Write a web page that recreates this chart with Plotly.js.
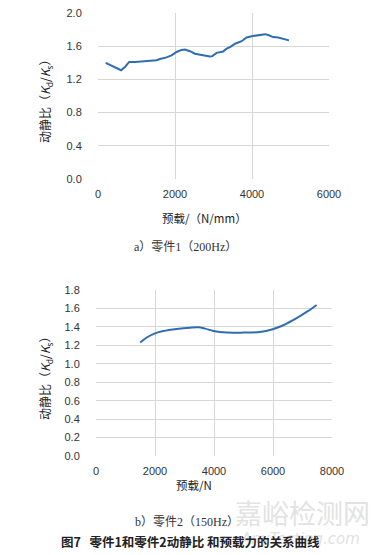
<!DOCTYPE html>
<html>
<head>
<meta charset="utf-8">
<script src="https://cdn.plot.ly/plotly-3.0.1.min.js"></script>
<style>html,body{margin:0;padding:0;background:#fff;}#chart{width:381px;height:555px;}</style>
</head>
<body>
<div id="chart"></div>
<script>
// Part 1 (200Hz): preload (N/mm) vs dynamic-static ratio
const preload1 = [200, 340, 440, 600, 700, 810, 960, 1090, 1260, 1440, 1520, 1610, 1780, 1910, 2040, 2170, 2260, 2390, 2520, 2690, 2910, 2970, 3080, 3250, 3340, 3430, 3560, 3730, 3860, 3990, 4170, 4340, 4420, 4550, 4680, 4810, 4960];
const ratio1 = [1.40, 1.37, 1.35, 1.31, 1.35, 1.41, 1.41, 1.415, 1.42, 1.43, 1.43, 1.445, 1.465, 1.49, 1.53, 1.555, 1.56, 1.54, 1.51, 1.495, 1.475, 1.48, 1.52, 1.535, 1.57, 1.59, 1.63, 1.66, 1.705, 1.72, 1.735, 1.745, 1.735, 1.71, 1.705, 1.685, 1.67];
// Part 2 (150Hz): preload (N) vs dynamic-static ratio
const preload2 = [1500, 1720, 2000, 2280, 2740, 3190, 3470, 3700, 3980, 4430, 5000, 5560, 5990, 6350, 6800, 7140, 7480];
const ratio2 = [1.23, 1.285, 1.33, 1.355, 1.378, 1.392, 1.396, 1.381, 1.356, 1.338, 1.338, 1.345, 1.375, 1.418, 1.494, 1.562, 1.638];

const xTicks1 = [0, 2000, 4000, 6000];
const yTicks1 = [0, 0.4, 0.8, 1.2, 1.6, 2.0];
const yTickText1 = ["0.0", "0.4", "0.8", "1.2", "1.6", "2.0"];
const xTicks2 = [0, 2000, 4000, 6000, 8000];
const yTicks2 = [0, 0.2, 0.4, 0.6, 0.8, 1.0, 1.2, 1.4, 1.6, 1.8];
const yTickText2 = ["0.0", "0.2", "0.4", "0.6", "0.8", "1.0", "1.2", "1.4", "1.6", "1.8"];

const W = 381, H = 555;
const px = v => v / W;
const py = v => 1 - v / H;

const lineColor = '#2f6db0';
const gridColor = '#d6d6d6';
const tickFont = {family: 'Liberation Sans, Arial, sans-serif', size: 11, color: '#333'};

const traces = [
  {x: preload1, y: ratio1, type: 'scatter', mode: 'lines', line: {color: lineColor, width: 2}, xaxis: 'x', yaxis: 'y', hoverinfo: 'skip'},
  {x: preload2, y: ratio2, type: 'scatter', mode: 'lines', line: {color: lineColor, width: 2, shape: 'spline', smoothing: 1}, xaxis: 'x2', yaxis: 'y2', hoverinfo: 'skip'}
];

function xa(domain, range, tv, anchor) {
  return {domain: domain, range: range, tickvals: tv, showgrid: true, gridcolor: gridColor, gridwidth: 1,
    zeroline: false, showline: false, ticks: 'outside', ticklen: 5, tickcolor: 'rgba(0,0,0,0)',
    tickfont: tickFont, anchor: anchor, fixedrange: true};
}
function ya(domain, range, tv, tt, anchor) {
  return {domain: domain, range: range, tickvals: tv, ticktext: tt, showgrid: true, gridcolor: gridColor, gridwidth: 1,
    zeroline: false, showline: false, ticks: 'outside', ticklen: 13, tickcolor: 'rgba(0,0,0,0)',
    tickfont: tickFont, anchor: anchor, fixedrange: true};
}

const ytitle = '动静比（<i>K</i><sub>d</sub>/<i>K</i><sub>s</sub>）';
const cjkBold = 'Noto Sans CJK SC, sans-serif';
const serif = 'Liberation Serif, Noto Sans CJK SC, serif';

const layout = {
  width: W, height: H,
  margin: {l: 0, r: 0, t: 0, b: 0},
  paper_bgcolor: '#fff', plot_bgcolor: '#fff',
  showlegend: false,
  xaxis: xa([px(98), px(329)], [0, 6000], xTicks1, 'y'),
  yaxis: ya([py(179), py(13)], [0, 2.0], yTicks1, yTickText1, 'x'),
  xaxis2: xa([px(96), px(332)], [0, 8000], xTicks2, 'y2'),
  yaxis2: ya([py(456), py(290)], [0, 1.8], yTicks2, yTickText2, 'x2'),
  annotations: [
    {text: ytitle, x: px(46), y: py(99), xref: 'paper', yref: 'paper', textangle: -90, showarrow: false,
     xanchor: 'center', yanchor: 'middle', font: {family: cjkBold, size: 12, color: '#222'}},
    {text: ytitle, x: px(45), y: py(376), xref: 'paper', yref: 'paper', textangle: -90, showarrow: false,
     xanchor: 'center', yanchor: 'middle', font: {family: cjkBold, size: 12, color: '#222'}},
    {text: '预载/（N/mm）', x: px(204), y: py(218), xref: 'paper', yref: 'paper', showarrow: false,
     xanchor: 'center', yanchor: 'middle', font: {family: cjkBold, size: 11.5, color: '#222'}},
    {text: '预载/N', x: px(194), y: py(485), xref: 'paper', yref: 'paper', showarrow: false,
     xanchor: 'center', yanchor: 'middle', font: {family: cjkBold, size: 11.5, color: '#222'}},
    {text: 'a）零件1（200Hz）', x: px(185), y: py(247), xref: 'paper', yref: 'paper', showarrow: false,
     xanchor: 'center', yanchor: 'middle', font: {family: serif, size: 12, color: '#333'}},
    {text: '嘉峪检测网', x: px(302), y: py(512), xref: 'paper', yref: 'paper', showarrow: false,
     xanchor: 'center', yanchor: 'middle', font: {family: cjkBold, size: 27, color: '#e2e2e2'}},
    {text: '<i>AnyTesting.com</i>', x: px(300), y: py(539), xref: 'paper', yref: 'paper', showarrow: false,
     xanchor: 'center', yanchor: 'middle', font: {family: 'DejaVu Sans, sans-serif', size: 15, color: '#e2e2e2'}},
    {text: 'b）零件2（150Hz）', x: px(187), y: py(522), xref: 'paper', yref: 'paper', showarrow: false,
     xanchor: 'center', yanchor: 'middle', font: {family: serif, size: 12, color: '#333'}},
    {text: '<b>图7   零件1和零件2动静比 和预载力的关系曲线</b>', x: px(190), y: py(541), xref: 'paper', yref: 'paper', showarrow: false,
     xanchor: 'center', yanchor: 'middle', font: {family: cjkBold, size: 12.5, color: '#222'}}
  ]
};

Plotly.newPlot('chart', traces, layout, {staticPlot: true, displayModeBar: false});
</script>
</body>
</html>
